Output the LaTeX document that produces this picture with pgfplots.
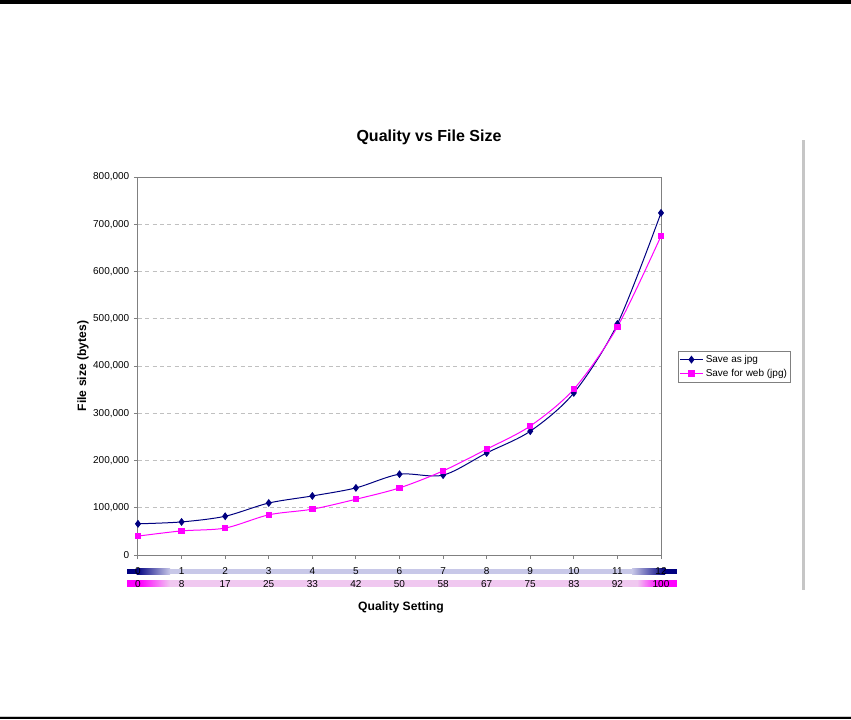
\documentclass[border=0pt]{standalone}
\usepackage{fontspec}
\setmainfont{Liberation Sans}
\usepackage{pgfplots}
\pgfplotsset{compat=1.18}

\definecolor{navyc}{RGB}{0,0,128}
\definecolor{magc}{RGB}{255,0,255}
\definecolor{navylt}{RGB}{200,200,232}
\definecolor{maglt}{RGB}{240,200,240}
\definecolor{framegray}{RGB}{128,128,128}
\definecolor{gridgray}{RGB}{192,192,192}

\pgfplotstableread{
q   jpg     web
0   66000   40000
1   70000   51000
2   82000   57000
3   110000  85000
4   125000  97000
5   142000  118000
6   171000  142000
7   169000  178000
8   216000  224000
9   262000  273000
10  343000  351000
11  489000  483000
12  724000  675000
}\sizes

\begin{document}
\begin{tikzpicture}
\useasboundingbox (0,0) rectangle (638.25pt,539.25pt);
% page rules top and bottom
\fill[gray!40] (0,536pt) rectangle (638.25pt,539.25pt);
\fill[black] (0,536.6pt) rectangle (638.25pt,539pt);
\fill[gray!40] (0,0) rectangle (638.25pt,2.4pt);
\fill[black] (0,0) rectangle (638.25pt,1.6pt);
% vertical divider on the right
\fill[gray!45] (601.5pt,96.75pt) rectangle (603.75pt,434.25pt);

% gradient bars behind the two rows of category labels
\fill[navyc] (95.25pt,108.5pt) rectangle (102.5pt,112.7pt);
\shade[left color=navyc, right color=navylt] (102.5pt,108.5pt) rectangle (127.5pt,112.7pt);
\fill[navylt] (127.5pt,108.5pt) rectangle (474pt,112.7pt);
\shade[left color=navylt, right color=navyc] (474pt,108.5pt) rectangle (498.75pt,112.7pt);
\fill[navyc] (498.75pt,108.5pt) rectangle (507.75pt,112.7pt);
\fill[magc] (95.25pt,99.2pt) rectangle (105pt,104.2pt);
\shade[left color=magc, right color=maglt] (105pt,99.2pt) rectangle (127.5pt,104.2pt);
\fill[maglt] (127.5pt,99.2pt) rectangle (477.75pt,104.2pt);
\shade[left color=maglt, right color=magc] (477.75pt,99.2pt) rectangle (495pt,104.2pt);
\fill[magc] (495pt,99.2pt) rectangle (507.75pt,104.2pt);

\begin{axis}[
    at={(103.5pt,123pt)}, anchor=south west,
    scale only axis, width=392.25pt, height=283.5pt,
    clip=false,
    xmin=0, xmax=12, ymin=0, ymax=800000,
    xtick={0,...,12},
    xticklabels={{0\\0},{1\\8},{2\\17},{3\\25},{4\\33},{5\\42},{6\\50},{7\\58},{8\\67},{9\\75},{10\\83},{11\\92},{12\\100}},
    xticklabel style={align=center, font=\fontsize{7.5}{9.9}\selectfont, yshift=-3pt},
    ytick={0,100000,...,800000},
    scaled y ticks=false,
    yticklabel style={/pgf/number format/fixed, /pgf/number format/1000 sep={,}, font=\fontsize{7.5}{9}\selectfont},
    /pgf/number format/assume math mode=true,
    ymajorgrids, grid style={gridgray, dash pattern=on 3pt off 2.5pt},
    axis line style={framegray, line width=0.75pt},
    tick style={framegray, line width=0.75pt},
    tick align=outside, major tick length=3pt, tick pos=left,
    legend style={at={(1.0325,0.5397)}, anchor=north west, draw=framegray,
        font=\fontsize{7.5}{9}\selectfont, inner xsep=1pt, inner ysep=1pt,
        nodes={inner sep=1.8pt}, cells={anchor=west}},
    legend cell align=left,
]
\addplot[navyc, line width=0.75pt, smooth, tension=0.5, mark=diamond*, mark size=2.4pt, mark options={fill=navyc}]
    table[x=q, y=jpg] {\sizes};
\addlegendentry{Save as jpg}
\addplot[magc, line width=0.75pt, smooth, tension=0.5, mark=square*, mark size=2pt, mark options={fill=magc}]
    table[x=q, y=web] {\sizes};
\addlegendentry{Save for web (jpg)}
\end{axis}

\node[font=\bfseries\fontsize{12}{14}\selectfont] at (321.75pt,436.5pt) {Quality vs File Size};
\node[font=\bfseries\fontsize{9.1}{11}\selectfont, rotate=90] at (62.25pt,264.75pt) {File size (bytes)};
\node[font=\bfseries\fontsize{9.1}{11}\selectfont] at (300.75pt,84pt) {Quality Setting};
\end{tikzpicture}
\end{document}
